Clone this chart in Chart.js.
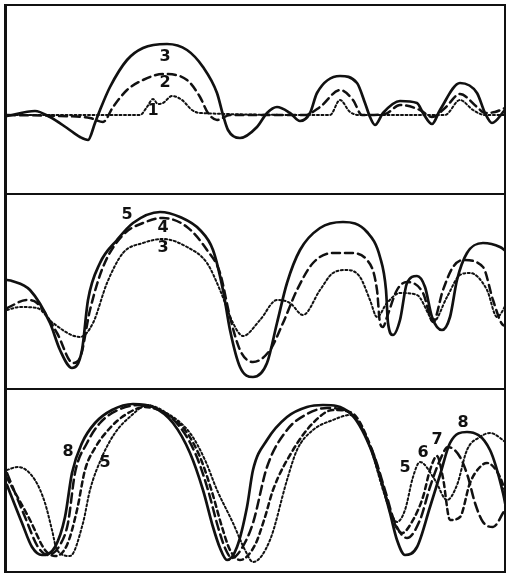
<!DOCTYPE html>
<html>
<head>
<meta charset="utf-8">
<script src="https://cdn.jsdelivr.net/npm/chart.js@4/dist/chart.umd.min.js"></script>
<style>
    body { margin: 0; background: #fff; }
    #frame {
        position: absolute;
        left: 4px;
        top: 4px;
        width: 497px;
        border: 2px solid #111;
        border-left-width: 3px;
    }
    .panel canvas { display: block; }
    .sep { border-top: 2px solid #111; }
</style>
</head>
<body>
<div id="frame">
    <div class="panel"><canvas id="p1" width="497" height="187"></canvas></div>
    <div class="panel sep"><canvas id="p2" width="497" height="193"></canvas></div>
    <div class="panel sep"><canvas id="p3" width="497" height="181"></canvas></div>
</div>
<script>
// ---- panel 1: curves 1, 2, 3 ----
const p1Curve3X = [0, 5.6, 8.6, 12, 14.6, 16.2, 17.6, 18.6, 20.6, 24, 27.2, 32, 36, 39.2, 42, 43.2, 44.2, 46.6, 50, 52, 54, 56.6, 58.6, 60.6, 62, 66.6, 70, 71.6, 72.6, 73.6, 75.2, 78.6, 82, 83.2, 85, 86.6, 90.6, 94, 95.6, 97, 99.6];
const p1Curve3Y = [-0.1, 0.4, -0.2, -1.3, -2.2, -2.5, -0.8, 0.5, 2.8, 5.5, 6.7, 7.1, 6.5, 4.8, 2.2, 0, -1.5, -2.3, -1.2, 0.2, 0.8, 0.2, -0.6, 0.2, 2.2, 3.9, 3.2, 1.2, -0.2, -1.0, 0.2, 1.4, 1.2, 0.2, -0.9, 0.5, 3.2, 2.2, 0.2, -0.8, 0.5];
const p1Curve2X = [0, 10.6, 16.6, 19.2, 21.2, 24, 27.2, 31.2, 36, 38.6, 40.2, 42, 44.6, 59.6, 62.6, 66.6, 69.2, 71, 75.6, 78.6, 82.6, 85, 87.6, 90.6, 94, 95.6, 97.6, 99.6];
const p1Curve2Y = [0, -0.1, -0.3, -0.7, 0.8, 2.5, 3.5, 4.1, 3.5, 1.8, 0.2, -0.5, 0, 0, 0.8, 2.5, 1.5, 0, 0.1, 1.0, 0.5, -0.2, 0.7, 2.1, 0.8, 0.2, 0.3, 0.7];
const p1Curve1X = [0, 26.6, 28, 29.2, 30.2, 31.2, 33, 35, 37, 38.6, 64.6, 66.6, 68.6, 70.6, 87.6, 90.6, 93.2, 95.6, 99.4];
const p1Curve1Y = [0, 0, 0.8, 1.6, 1.1, 1.2, 1.9, 1.5, 0.5, 0.2, 0, 1.5, 0.3, 0, 0, 1.5, 0.5, 0, 0];

// ---- panel 2: curves 3, 4, 5 ----
const p2Curve5X = [0, 1, 4.6, 8.6, 10.6, 13, 15, 16.2, 18.6, 22, 25.2, 30.6, 34.6, 38.6, 41.2, 43.2, 44.6, 46.6, 49.2, 52, 54, 56, 58.6, 62.6, 67.2, 72, 74.6, 75.8, 76.2, 77.2, 78.6, 80, 82, 83.6, 85, 87, 88.6, 90, 92, 95.2, 98.6, 100];
const p2Curve5Y = [10.8, 10.7, 9.8, 6.5, 3.8, 2.0, 3.8, 8.8, 12.5, 14.8, 16.5, 17.6, 17.1, 15.8, 13.8, 9.8, 5.8, 2.1, 1.1, 2.5, 6.5, 10.5, 13.8, 16, 16.6, 15.6, 13.1, 9.8, 6.5, 5.3, 6.8, 10.5, 11.2, 10.1, 7.1, 5.8, 7.1, 10.8, 13.5, 14.5, 14.1, 13.6];
const p2Curve4X = [0, 4, 6, 10, 13.2, 14.6, 16.6, 19.2, 23.2, 27.2, 31.2, 36, 40, 42.6, 44.6, 46.6, 49.2, 52.6, 55.2, 58, 61.2, 65.2, 68.6, 72, 74, 74.6, 75.2, 76, 78, 80, 83.2, 85.2, 87.2, 89.2, 91.2, 95.2, 97.2, 99.2, 100];
const p2Curve4Y = [8, 8.8, 8.5, 5.5, 2.5, 3.0, 7.8, 12.1, 15.3, 16.5, 17, 16.1, 13.8, 11.5, 7.1, 3.8, 2.6, 3.8, 6.5, 9.8, 12.5, 13.5, 13.5, 12.8, 9.8, 6.5, 6.1, 7.1, 9.8, 10.6, 9.5, 6.6, 9.8, 12.1, 12.8, 12.1, 8.8, 6.3, 6.2];
const p2Curve3X = [0, 2.6, 6, 9.2, 14.6, 17.2, 20, 23.2, 27.2, 31.2, 36, 40, 42.6, 45.2, 47.2, 50.6, 54, 56.6, 59.2, 62.6, 65.2, 68, 70.6, 72.6, 74, 76, 78.6, 82, 84.6, 85.2, 88, 90.6, 92.6, 96, 98, 100];
const p2Curve3Y = [7.8, 8.1, 8, 6.5, 5.1, 6.5, 10.5, 13.5, 14.5, 14.9, 14.1, 12.5, 9.8, 6.5, 5.2, 6.8, 8.8, 8.5, 7.3, 9.8, 11.5, 11.8, 11.1, 8.8, 7.1, 8.5, 9.5, 9.3, 7.1, 6.6, 9.1, 11.3, 11.5, 9.8, 7.1, 8.5];

// ---- panel 3: curves 5, 6, 7, 8 ----
const p3Curve8X = [0, 3, 5, 7, 9.6, 11.6, 13, 15, 17.6, 21, 25.2, 29.2, 33.2, 36.6, 39.2, 41.2, 42.6, 44, 46, 48, 49.2, 52, 56, 60, 63.2, 68.6, 72.6, 75.2, 76.6, 78, 79.6, 82, 84.6, 86.6, 88.6, 92, 96.6, 99.2, 100];
const p3Curve8Y = [8.6, 4.8, 2.4, 1.6, 2.4, 5.4, 9.8, 12.8, 14.8, 16.1, 16.7, 16.4, 14.8, 11.8, 8.1, 4.4, 2.3, 1.1, 2.4, 6.4, 10.1, 13.1, 15.4, 16.4, 16.6, 15.8, 12.4, 8.4, 5.8, 3.1, 1.6, 2.4, 6.4, 9.6, 12.8, 13.9, 12.1, 7.8, 5.8];
const p3Curve7X = [0, 3.6, 6.2, 8.2, 10.6, 12.2, 13.6, 16, 18.6, 22.2, 26.6, 30.6, 34.6, 37.8, 40.2, 42.2, 43.6, 45, 47, 49.2, 52, 56, 60, 64, 68.6, 73, 75.6, 77.6, 80, 82.6, 84.6, 86.6, 88.2, 90.6, 92.2, 93.6, 95.2, 97.2, 99.2, 100];
const p3Curve7Y = [9.8, 5.4, 2.4, 1.6, 2.6, 4.8, 9.8, 12.8, 14.8, 16.1, 16.6, 16.1, 14.4, 11.6, 8.1, 4.4, 2.3, 1.3, 2.3, 4.8, 10.4, 14.1, 15.7, 16.3, 15.8, 12.1, 8.1, 4.8, 3.3, 5.1, 8.4, 11.1, 12.4, 11.4, 9.4, 6.8, 4.9, 4.4, 5.8, 6.6];
const p3Curve6X = [0, 4.6, 7.6, 9.6, 12, 14, 15.6, 17.6, 20.6, 23.6, 27.6, 31.6, 35.6, 38.6, 41, 43, 44.6, 46.6, 49.6, 51.6, 53.2, 57.2, 61.2, 65.2, 69, 73, 75.6, 77.2, 79, 81.2, 83.2, 84.6, 86, 87.2, 88.6, 90.6, 92.6, 94.6, 96, 98.6, 100];
const p3Curve6Y = [9.3, 5.1, 2.1, 1.5, 2.6, 6.1, 10.1, 12.3, 14.3, 15.6, 16.4, 15.8, 14.1, 11.4, 7.9, 4.4, 2.1, 1.1, 2.6, 5.4, 8.1, 12.1, 14.8, 16.1, 15.8, 12.1, 7.8, 5.1, 3.8, 5.1, 7.4, 10.1, 11.5, 9.3, 5.1, 5.4, 8.8, 10.4, 10.8, 9.4, 7.4];
const p3Curve5X = [0, 2.2, 5.6, 7.6, 9, 10, 12.6, 15.2, 16.6, 19, 21.6, 25, 28, 31.6, 36.6, 39.6, 42, 45.2, 47.6, 49.2, 52.6, 56, 58, 61.2, 65.2, 68.6, 72.6, 75.2, 76.6, 78, 79.6, 81.2, 82.6, 85.6, 88, 90, 92, 94.6, 96.6, 100];
const p3Curve5Y = [10.1, 10.4, 9.1, 6.8, 4.1, 2.1, 1.5, 4.8, 8.1, 11.4, 13.8, 15.6, 16.6, 15.9, 13.8, 11.1, 8.1, 4.8, 2.1, 0.9, 3.1, 9.1, 12.1, 14.1, 15.1, 15.6, 12.4, 8.1, 6.1, 4.9, 6.1, 9.4, 10.9, 9.1, 7.1, 8.6, 12.1, 13.4, 13.8, 12.8];

// curve number labels: [x, y, text]
const p1Labels = [[31.6, 5.8, '3'], [31.6, 3.2, '2'], [29.2, 0.4, '1']];
const p2Labels = [[24, 17.3, '5'], [31.2, 16, '4'], [31.2, 14, '3']];
const p3Labels = [[12.2, 11.9, '8'], [19.6, 10.8, '5'], [79.6, 10.3, '5'], [83.2, 11.8, '6'], [86, 13.1, '7'], [91.2, 14.8, '8']];

const INK = '#111';

const pts = (xs, ys) => xs.map((x, i) => ({ x: x, y: ys[i] }));

const solid = (xs, ys) => ({ data: pts(xs, ys), borderWidth: 2.7 });
const dashed = (xs, ys, dash) => ({ data: pts(xs, ys), borderWidth: 2.5, borderDash: dash || [8, 5] });
const dotted = (xs, ys) => ({ data: pts(xs, ys), borderWidth: 2, borderDash: [2, 2.5] });

// draws the little curve numbers at data positions
const curveLabels = {
    id: 'curveLabels',
    afterDatasetsDraw(chart, args, opts) {
        const ctx = chart.ctx;
        const xs = chart.scales.x, ys = chart.scales.y;
        ctx.save();
        ctx.font = 'bold 16px "DejaVu Sans", sans-serif';
        ctx.fillStyle = INK;
        ctx.textAlign = 'center';
        ctx.textBaseline = 'middle';
        (opts.items || []).forEach(([x, y, t]) => {
            ctx.fillText(t, xs.getPixelForValue(x), ys.getPixelForValue(y));
        });
        ctx.restore();
    }
};

const makePanel = (id, datasets, yMin, yMax, labels) => {
    new Chart(document.getElementById(id), {
        type: 'line',
        data: { datasets: datasets },
        options: {
            responsive: false,
            animation: false,
            layout: { padding: 0 },
            elements: {
                point: { radius: 0 },
                line: { borderColor: INK, fill: false, cubicInterpolationMode: 'monotone', borderCapStyle: 'round' }
            },
            scales: {
                x: { type: 'linear', display: false, min: 0, max: 99.4 },
                y: { display: false, min: yMin, max: yMax }
            },
            plugins: {
                legend: { display: false },
                tooltip: { enabled: false },
                curveLabels: { items: labels }
            }
        },
        plugins: [curveLabels]
    });
};

makePanel('p1', [
    dotted(p1Curve1X, p1Curve1Y),
    dashed(p1Curve2X, p1Curve2Y),
    solid(p1Curve3X, p1Curve3Y)
], -7.8, 10.9, p1Labels);

makePanel('p2', [
    dotted(p2Curve3X, p2Curve3Y),
    dashed(p2Curve4X, p2Curve4Y),
    solid(p2Curve5X, p2Curve5Y)
], 0, 19.3, p2Labels);

makePanel('p3', [
    dotted(p3Curve5X, p3Curve5Y),
    dashed(p3Curve6X, p3Curve6Y, [5, 4]),
    dashed(p3Curve7X, p3Curve7Y, [9, 5]),
    solid(p3Curve8X, p3Curve8Y)
], 0, 18.1, p3Labels);
</script>
</body>
</html>
